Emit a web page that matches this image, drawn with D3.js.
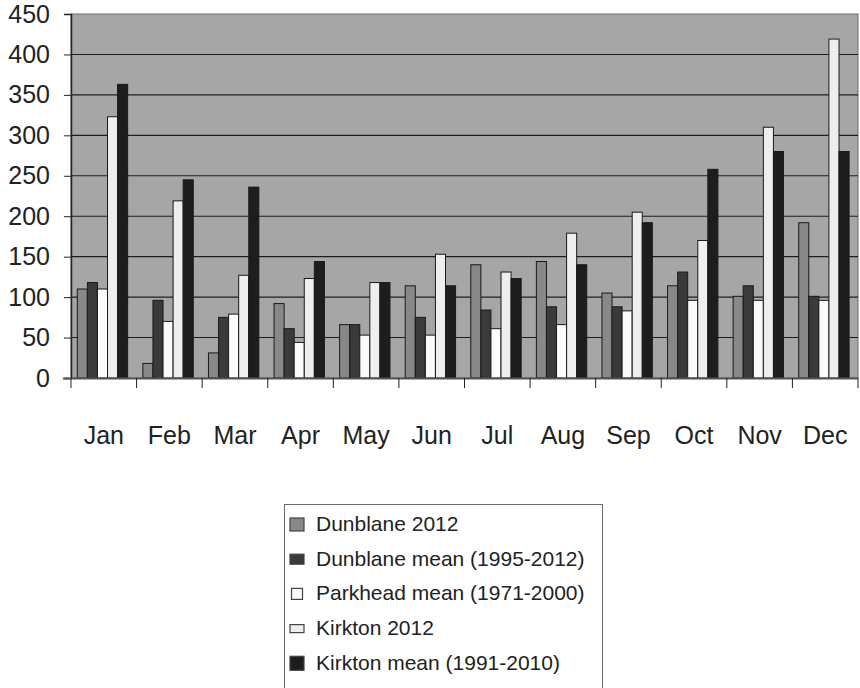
<!DOCTYPE html>
<html>
<head>
<meta charset="utf-8">
<script src="https://cdn.jsdelivr.net/npm/d3@7/dist/d3.min.js"></script>
<style>
  html, body { margin: 0; padding: 0; background: #fff; }
  svg { display: block; }
  text { font-family: "Liberation Sans", Arial, Helvetica, sans-serif; fill: #222; }
</style>
</head>
<body>
<svg id="chart" width="860" height="688"></svg>
<script>
// Monthly rainfall (mm)
const months = ["Jan", "Feb", "Mar", "Apr", "May", "Jun", "Jul", "Aug", "Sep", "Oct", "Nov", "Dec"];
const seriesNames = [
  "Dunblane 2012",
  "Dunblane mean (1995-2012)",
  "Parkhead mean (1971-2000)",
  "Kirkton 2012",
  "Kirkton mean (1991-2010)"
];
const dunblane2012     = [110, 18, 31, 92, 66, 114, 140, 144, 105, 114, 101, 192];
const dunblaneMean     = [118, 96, 75, 61, 66, 75, 84, 88, 88, 131, 114, 101];
const parkheadMean     = [110, 70, 79, 44, 53, 53, 61, 66, 83, 96, 96, 96];
const kirkton2012      = [323, 219, 127, 123, 118, 153, 131, 179, 205, 170, 310, 419];
const kirktonMean      = [363, 245, 236, 144, 118, 114, 123, 140, 192, 258, 280, 280];
const yTicks = [0, 50, 100, 150, 200, 250, 300, 350, 400, 450];

const seriesValues = [dunblane2012, dunblaneMean, parkheadMean, kirkton2012, kirktonMean];
const fills = ["#888888", "#3a3a3a", "#fbfbfb", "#eeeeee", "#1d1d1d"];

const svg = d3.select("#chart");
const plot = { left: 71, right: 858, top: 14, bottom: 378 };

const x0 = d3.scaleBand().domain(months).range([plot.left, plot.right]).padding(0);
const x1 = d3.scaleBand().domain(seriesNames)
  .range([x0.bandwidth() * 0.096, x0.bandwidth() * 0.864]).padding(0);
const y = d3.scaleLinear().domain([0, 450]).range([plot.bottom, plot.top]);

// Plot background
svg.append("rect")
  .attr("x", plot.left).attr("y", plot.top)
  .attr("width", plot.right - plot.left).attr("height", plot.bottom - plot.top)
  .attr("fill", "#a6a6a6")
  .attr("stroke", "#6a6a6a").attr("stroke-width", 1);

// Horizontal gridlines
svg.append("g")
  .selectAll("line")
  .data(yTicks.filter(d => d > 0 && d < 450))
  .join("line")
  .attr("x1", plot.left).attr("x2", plot.right)
  .attr("y1", d => y(d)).attr("y2", d => y(d))
  .attr("stroke", "#1e1e1e").attr("stroke-width", 1.1);

// Bars
const rows = months.map((m, i) => ({ month: m, values: seriesNames.map((s, j) => ({ series: s, j, value: seriesValues[j][i] })) }));

const groups = svg.append("g").selectAll("g")
  .data(rows)
  .join("g")
  .attr("transform", d => `translate(${x0(d.month)},0)`);

groups.selectAll("rect")
  .data(d => d.values)
  .join("rect")
  .attr("x", d => x1(d.series))
  .attr("y", d => y(d.value))
  .attr("width", x1.bandwidth())
  .attr("height", d => y(0) - y(d.value))
  .attr("fill", d => fills[d.j])
  .attr("stroke", "#1a1a1a")
  .attr("stroke-width", 1);

// Y axis
const yAxis = d3.axisLeft(y).tickValues(yTicks).tickSize(7).tickPadding(14);
const gy = svg.append("g").attr("transform", `translate(${plot.left},0)`).call(yAxis);
gy.select(".domain").attr("stroke", "#222").attr("stroke-width", 1.5);
gy.selectAll(".tick line").attr("stroke", "#222");
gy.selectAll(".tick text")
  .attr("font-size", 25)
  .attr("font-family", "Liberation Sans, Arial, sans-serif")
  .attr("fill", "#222");

// X axis baseline and category ticks
svg.append("line")
  .attr("x1", plot.left - 8).attr("x2", plot.right)
  .attr("y1", plot.bottom + 0.5).attr("y2", plot.bottom + 0.5)
  .attr("stroke", "#555").attr("stroke-width", 2);

svg.append("g").selectAll("line")
  .data(months.concat(["end"]))
  .join("line")
  .attr("x1", (d, i) => i < months.length ? x0(d) : plot.right)
  .attr("x2", (d, i) => i < months.length ? x0(d) : plot.right)
  .attr("y1", plot.bottom)
  .attr("y2", plot.bottom + 10)
  .attr("stroke", "#222").attr("stroke-width", 1);

svg.append("g").selectAll("text")
  .data(months)
  .join("text")
  .attr("x", d => x0(d) + x0.bandwidth() / 2)
  .attr("y", 444)
  .attr("text-anchor", "middle")
  .attr("font-size", 25)
  .text(d => d);

// Legend
const legend = svg.append("g");
legend.append("rect")
  .attr("x", 284.5).attr("y", 504.5)
  .attr("width", 318).attr("height", 200)
  .attr("fill", "#fff").attr("stroke", "#6a6a6a").attr("stroke-width", 1);

const markerSizes = [[14, 13], [14, 10], [11, 11], [14, 8], [14, 14]];
const items = legend.selectAll("g.item")
  .data(seriesNames)
  .join("g")
  .attr("class", "item")
  .attr("transform", (d, i) => `translate(0,${531 + i * 34.7})`);

items.append("rect")
  .attr("x", (d, i) => 297 - markerSizes[i][0] / 2)
  .attr("y", (d, i) => -6.5 - markerSizes[i][1] / 2)
  .attr("width", (d, i) => markerSizes[i][0])
  .attr("height", (d, i) => markerSizes[i][1])
  .attr("fill", (d, i) => fills[i])
  .attr("stroke", "#444").attr("stroke-width", 1.2);

items.append("text")
  .attr("x", 316)
  .attr("y", 0)
  .attr("font-size", 21)
  .text(d => d);
</script>
</body>
</html>
